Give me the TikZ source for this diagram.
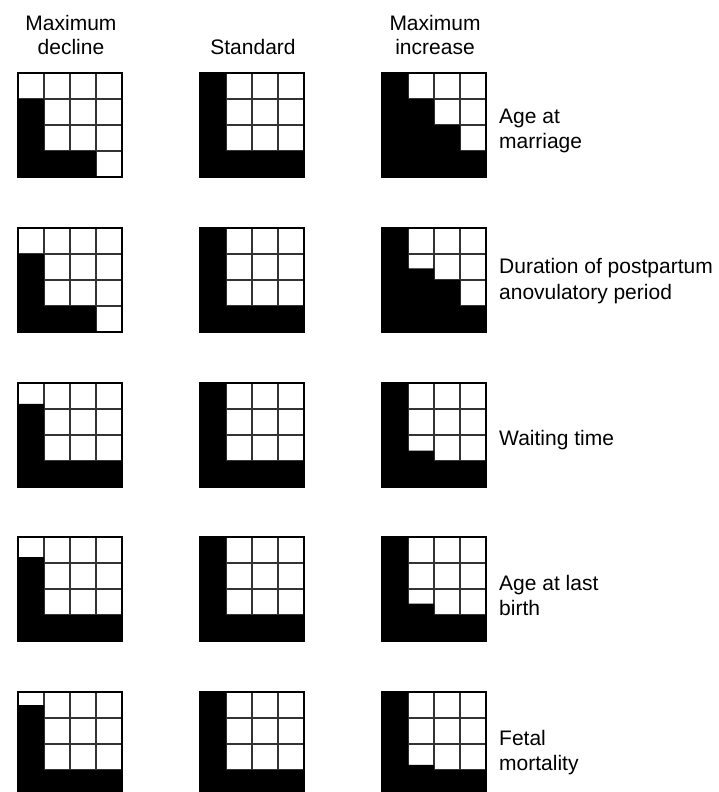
\documentclass[tikz,border=0pt]{standalone}
\usepackage{fontspec}
\setmainfont{Liberation Sans}
\tikzset{
  txt/.style={font=\fontsize{21}{25}\selectfont, inner sep=0pt, anchor=base},
  lbl/.style={font=\fontsize{21}{25}\selectfont, inner sep=0pt, anchor=base west},
  gline/.style={draw=black!80, line width=1.3pt},
  gborder/.style={draw=black, line width=1.8pt},
}
\newcommand\cellgrid[3]{%
  \begin{scope}[shift={(#1,#2)},x=26pt,y=-26pt]
    \fill[white] (0,0) rectangle (4,4);
    \foreach \i in {1,2,3}{\draw[gline] (\i,0) -- (\i,4); \draw[gline] (0,\i) -- (4,\i);}
    \fill[black] #3;
    \draw[gborder] (0,0) rectangle (4,4);
  \end{scope}}
\begin{document}
\begin{tikzpicture}[x=1pt,y=-1pt]
\useasboundingbox (0,0) rectangle (718,792);
\clip (0,0) rectangle (718,792);
% headers
\node[txt] (h1a) at (71,31) {Maximum};
\node[txt] (h1b) at (71,54.5) {decline};
\node[txt] (h2) at (253,54.5) {Standard};
\node[txt] (h3a) at (435,31) {Maximum};
\node[txt] (h3b) at (435,54.5) {increase};
% standard column
\foreach \t in {73,228,383,537,692}{
  \cellgrid{200}{\t}{(0,0) -- (1,0) -- (1,3) -- (4,3) -- (4,4) -- (0,4) -- cycle}
}
% row 1: age at marriage
\cellgrid{18}{73}{(0,1) -- (1,1) -- (1,3) -- (3,3) -- (3,4) -- (0,4) -- cycle}
\cellgrid{382}{73}{(0,0) -- (1,0) -- (1,1) -- (2,1) -- (2,2) -- (3,2) -- (3,3) -- (4,3) -- (4,4) -- (0,4) -- cycle}
\node[lbl] (l1a) at (499,123.5) {Age at};
\node[lbl] (l1b) at (499,148) {marriage};
% row 2: postpartum
\cellgrid{18}{228}{(0,1) -- (1,1) -- (1,3) -- (3,3) -- (3,4) -- (0,4) -- cycle}
\cellgrid{382}{228}{(0,0) -- (1,0) -- (1,1.55) -- (2,1.55) -- (2,2) -- (3,2) -- (3,3) -- (4,3) -- (4,4) -- (0,4) -- cycle}
\node[lbl] (l2a) at (499,273.5) {Duration of postpartum};
\node[lbl] (l2b) at (499,299) {anovulatory period};
% row 3: waiting time
\cellgrid{18}{383}{(0,0.8) -- (1,0.8) -- (1,3) -- (4,3) -- (4,4) -- (0,4) -- cycle}
\cellgrid{382}{383}{(0,0) -- (1,0) -- (1,2.6) -- (2,2.6) -- (2,3) -- (4,3) -- (4,4) -- (0,4) -- cycle}
\node[lbl] (l3) at (499,445.5) {Waiting time};
% row 4: age at last birth
\cellgrid{18}{537}{(0,0.77) -- (1,0.77) -- (1,3) -- (4,3) -- (4,4) -- (0,4) -- cycle}
\cellgrid{382}{537}{(0,0) -- (1,0) -- (1,2.56) -- (2,2.56) -- (2,3) -- (4,3) -- (4,4) -- (0,4) -- cycle}
\node[lbl] (l4a) at (499,590.5) {Age at last};
\node[lbl] (l4b) at (499,615.5) {birth};
% row 5: fetal mortality
\cellgrid{18}{692}{(0,0.5) -- (1,0.5) -- (1,3) -- (4,3) -- (4,4) -- (0,4) -- cycle}
\cellgrid{382}{692}{(0,0) -- (1,0) -- (1,2.8) -- (2,2.8) -- (2,3) -- (4,3) -- (4,4) -- (0,4) -- cycle}
\node[lbl] (l5a) at (499,745.5) {Fetal};
\node[lbl] (l5b) at (499,770) {mortality};
\end{tikzpicture}
\end{document}
